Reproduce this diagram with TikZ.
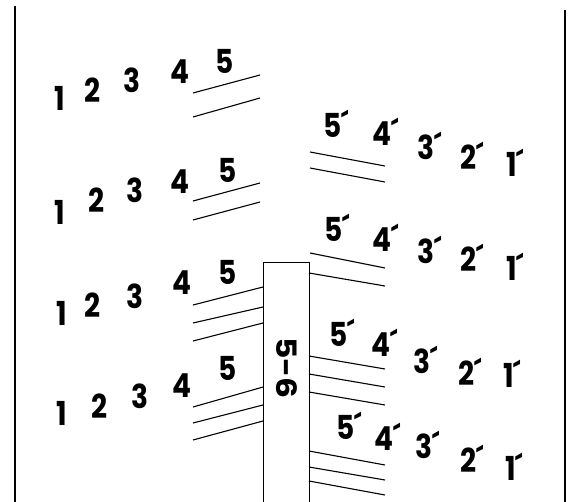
\documentclass[tikz,border=0pt]{standalone}
\usepackage{fontspec}
\setmainfont{Poppins}
\newcommand{\pr}{\rlap{\kern-0.5pt\textasciiacute}}
\begin{document}
\begin{tikzpicture}[x=1pt,y=-1pt,
  dig/.style={font=\fontsize{33}{33}\selectfont\bfseries, inner sep=0pt, anchor=center, xscale=0.85},
  strand/.style={line width=1.1pt},
  border/.style={line width=2.8pt},
  frame/.style={line width=1pt}]
\useasboundingbox (0,0) rectangle (570,502);
% borders
\draw[border] (15,6) -- (15,502);
\draw[border] (565,10) -- (565,502);
% box
\draw[frame, fill=white] (263,502) -- (263,263) -- (309,263) -- (309,502);
\node[dig, rotate=-90] (lbl) at (287,368) {5-6};
% left row 1
\node[dig] (a1) at (60,98) {1};
\node[dig] (a2) at (93,90) {2};
\node[dig] (a3) at (132,80) {3};
\node[dig] (a4) at (180,72) {4};
\node[dig] (a5) at (225,61) {5};
\draw[strand] (193,93) -- (260,75);
\draw[strand] (193,117) -- (260,98);
% left row 2
\node[dig] (b1) at (60,212) {1};
\node[dig] (b2) at (97,200) {2};
\node[dig] (b3) at (135,190) {3};
\node[dig] (b4) at (180,182) {4};
\node[dig] (b5) at (228,170) {5};
\draw[strand] (193,201) -- (260,183);
\draw[strand] (193,220) -- (260,202);
% left row 3
\node[dig] (c1) at (62,313) {1};
\node[dig] (c2) at (93,305) {2};
\node[dig] (c3) at (135,296) {3};
\node[dig] (c4) at (182,283) {4};
\node[dig] (c5) at (228,272) {5};
\draw[strand] (193,305) -- (263,287);
\draw[strand] (193,323) -- (263,307);
\draw[strand] (193,341) -- (263,323);
% left row 4
\node[dig] (d1) at (62,413) {1};
\node[dig] (d2) at (100,406) {2};
\node[dig] (d3) at (140,396) {3};
\node[dig] (d4) at (182,386) {4};
\node[dig] (d5) at (228,368) {5};
\draw[strand] (193,407) -- (263,387);
\draw[strand] (193,423) -- (263,405);
\draw[strand] (193,440) -- (263,421);
% right row 1
\node[dig] (e5) at (333,124) {5\pr};
\node[dig] (e4) at (382,132) {4\pr};
\node[dig] (e3) at (426,146) {3\pr};
\node[dig] (e2) at (469,156) {2\pr};
\node[dig] (e1) at (512,163) {1\pr};
\draw[strand] (310,152) -- (385,166);
\draw[strand] (310,168) -- (385,182);
% right row 2
\node[dig] (f5) at (334,228) {5\pr};
\node[dig] (f4) at (382,238) {4\pr};
\node[dig] (f3) at (426,250) {3\pr};
\node[dig] (f2) at (469,258) {2\pr};
\node[dig] (f1) at (512,267) {1\pr};
\draw[strand] (310,253) -- (385,268);
\draw[strand] (309,273) -- (385,286);
% right row 3
\node[dig] (g5) at (339,333) {5\pr};
\node[dig] (g4) at (381,343) {4\pr};
\node[dig] (g3) at (422,360) {3\pr};
\node[dig] (g2) at (467,372) {2\pr};
\node[dig] (g1) at (509,374) {1\pr};
\draw[strand] (309,356) -- (385,369);
\draw[strand] (309,374) -- (385,387);
\draw[strand] (309,392) -- (385,405);
% right row 4
\node[dig] (h5) at (346,426) {5\pr};
\node[dig] (h4) at (384,437) {4\pr};
\node[dig] (h3) at (424,445) {3\pr};
\node[dig] (h2) at (469,459) {2\pr};
\node[dig] (h1) at (511,467) {1\pr};
\draw[strand] (309,451) -- (385,465);
\draw[strand] (309,467) -- (385,480);
\draw[strand] (309,481) -- (385,495);
\end{tikzpicture}
\end{document}
